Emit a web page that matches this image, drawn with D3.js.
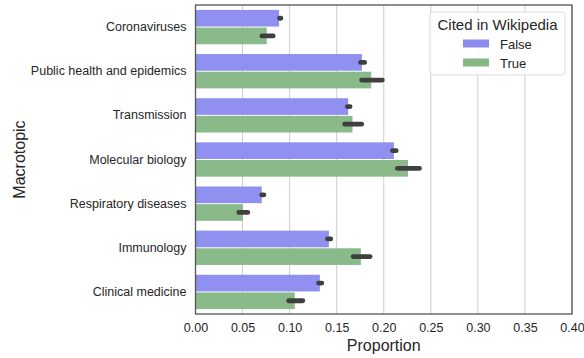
<!DOCTYPE html>
<html>
<head>
<meta charset="utf-8">
<script src="https://cdn.jsdelivr.net/npm/d3@7"></script>
<style>
  body { margin: 0; background: #fff; }
  text { font-family: "Liberation Sans", Arial, sans-serif; fill: #262626; }
</style>
</head>
<body>
<div class="chart"></div>
<script>
// proportions per macrotopic, split by whether the paper is cited in Wikipedia
var topics = ["Coronaviruses", "Public health and epidemics", "Transmission",
  "Molecular biology", "Respiratory diseases", "Immunology", "Clinical medicine"];
var groups = ["False", "True"];
var valFalse = [0.0888, 0.1768, 0.1622, 0.2108, 0.0704, 0.1417, 0.1321];
var valTrue  = [0.0757, 0.1867, 0.1668, 0.2257, 0.0502, 0.1757, 0.1055];
// confidence intervals (low, high)
var ciFalse = [[0.0893, 0.0907], [0.1753, 0.1797], [0.1613, 0.1642], [0.2093, 0.2132],
  [0.0703, 0.0727], [0.1403, 0.1437], [0.1308, 0.1342]];
var ciTrue  = [[0.0705, 0.0825], [0.1765, 0.1985], [0.1585, 0.1765], [0.2145, 0.2380],
  [0.0460, 0.0555], [0.1675, 0.1855], [0.0990, 0.1140]];
var xTicks = [0, 0.05, 0.1, 0.15, 0.2, 0.25, 0.3, 0.35, 0.4];
var colors = {False: "#8c8cef", True: "#86b886"};

var W = 584, H = 358;
var margin = {top: 5, right: 12, bottom: 44, left: 195.5};
var width = W - margin.left - margin.right,
    height = H - margin.top - margin.bottom;

var svg = d3.select(".chart").append("svg")
    .attr("width", W).attr("height", H);
var g = svg.append("g")
    .attr("transform", "translate(" + margin.left + "," + margin.top + ")");

var x = d3.scaleLinear().domain([0, 0.4]).range([0, width]);
var y = d3.scaleBand().domain(topics).range([0, height]).paddingInner(0.2).paddingOuter(0.1);
var y2 = d3.scaleBand().domain(groups).range([0, y.bandwidth()]);

// grid
g.selectAll(".grid").data(xTicks).enter().append("line")
    .attr("x1", d => x(d)).attr("x2", d => x(d))
    .attr("y1", 0).attr("y2", height)
    .attr("stroke", "#cccccc").attr("stroke-width", 1);

var rows = topics.map(function(t, i) {
  return [
    {topic: t, grp: "False", v: valFalse[i], ci: ciFalse[i]},
    {topic: t, grp: "True", v: valTrue[i], ci: ciTrue[i]}
  ];
}).flat();

g.selectAll(".bar").data(rows).enter().append("rect")
    .attr("x", 0)
    .attr("y", d => y(d.topic) + y2(d.grp) + 0.5)
    .attr("width", d => x(d.v))
    .attr("height", y2.bandwidth() - 1)
    .attr("fill", d => colors[d.grp])
    .attr("fill-opacity", 0.97);

g.selectAll(".err").data(rows).enter().append("line")
    .attr("x1", d => x(d.ci[0])).attr("x2", d => x(d.ci[1]))
    .attr("y1", d => y(d.topic) + y2(d.grp) + y2.bandwidth() / 2)
    .attr("y2", d => y(d.topic) + y2(d.grp) + y2.bandwidth() / 2)
    .attr("stroke", "#3f3f3f").attr("stroke-width", 4.8)
    .attr("stroke-linecap", "round");

// axes
var xAxis = g.append("g").attr("transform", "translate(0," + height + ")")
    .call(d3.axisBottom(x).tickValues(xTicks).tickFormat(d3.format(".2f")).tickSize(0).tickPadding(9));
xAxis.select(".domain").remove();
xAxis.selectAll("text").style("font-size", "12.5px").attr("fill", "#262626");

var yAxis = g.append("g")
    .call(d3.axisLeft(y).tickSize(0).tickPadding(9));
yAxis.select(".domain").remove();
yAxis.selectAll("text").style("font-size", "12.5px").attr("fill", "#262626");

// frame
g.append("rect").attr("x", 0).attr("y", 0).attr("width", width).attr("height", height)
    .attr("fill", "none").attr("stroke", "#555").attr("stroke-width", 1.3);

// labels
svg.append("text").attr("x", margin.left + width / 2).attr("y", 351)
    .attr("text-anchor", "middle").style("font-size", "16px").text("Proportion");
svg.append("text").attr("transform", "translate(25," + (margin.top + height / 2) + ") rotate(-90)")
    .attr("text-anchor", "middle").style("font-size", "16px").text("Macrotopic");

// legend
var lg = svg.append("g").attr("transform", "translate(430,12)");
lg.append("rect").attr("width", 135).attr("height", 63).attr("rx", 3)
    .attr("fill", "#fff").attr("fill-opacity", 0.85)
    .attr("stroke", "#dddddd").attr("stroke-width", 1);
lg.append("text").attr("x", 67.5).attr("y", 17.5).attr("text-anchor", "middle")
    .style("font-size", "15px").text("Cited in Wikipedia");
groups.forEach(function(gr, i) {
  lg.append("rect").attr("x", 33).attr("y", 27.5 + i * 19).attr("width", 26).attr("height", 8)
      .attr("fill", colors[gr]);
  lg.append("text").attr("x", 70).attr("y", 36.5 + i * 19)
      .style("font-size", "13px").text(gr);
});
</script>
</body>
</html>
